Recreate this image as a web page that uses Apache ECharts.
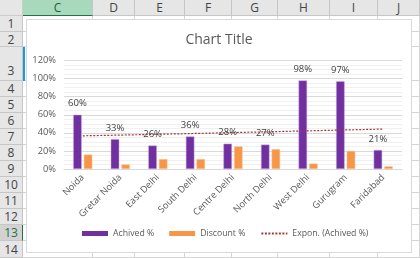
<!DOCTYPE html>
<html><head><meta charset="utf-8">
<script src="https://cdn.jsdelivr.net/npm/echarts@6/dist/echarts.min.js"></script>
<style>
html,body{margin:0;padding:0;width:420px;height:258px;overflow:hidden;background:#fff;font-family:"Segoe UI","Open Sans","Liberation Sans",sans-serif;}
.h{position:absolute;background:#E6E6E6;color:#444;font-size:12px;text-align:center;box-sizing:border-box;}
.vl{position:absolute;width:1px;background:#D4D4D4;}
.hl{position:absolute;height:1px;background:#D4D4D4;}
#chart{position:absolute;left:26px;top:19px;width:386px;height:234px;border:1px solid #D9D9D9;box-sizing:border-box;background:#fff;}
</style></head><body>
<div id="sheet"></div>
<div id="chart"></div>
<script>
const categories = ["Noida","Gretar Noida","East Delhi","South Delhi","Centre Delhi","North Delhi","West Delhi","Gurugram","Faridabad"];
const achieved = [60,33,26,36,28,27,98,97,21];
const discount = [16,5,11,11,25,22,6,20,3];
const trend = [36.7,37.5,38.4,39.3,40.3,41.2,42.2,43.2,44.2];
const yTicks = [0,20,40,60,80,100,120];
const colNames = ["C","D","E","F","G","H","I","J"];
const rowNames = ["1","2","3","4","5","6","7","8","9","10","11","12","13","14"];

// spreadsheet frame
const colEdges = [23,93,135,185,232,278,330,378,420];
const rowEdges = [16,32,47,81,97,113,129,145,161,177,193,209,225,241,258];
const sheet = document.getElementById('sheet');
let html = '';
html += '<div class="h" style="left:0;top:0;width:23px;height:16px;border-right:1px solid #ccc;border-bottom:1px solid #ccc"></div>';
for (let i=0;i<colNames.length;i++){
  const l=colEdges[i], w=colEdges[i+1]-l;
  const sel = i===0;
  html += `<div class="h" style="left:${l}px;top:0;width:${w}px;height:16px;line-height:16px;border-right:1px solid #C6C6C6;border-bottom:1px solid ${sel?'#217346':'#C6C6C6'};background:${sel?'#A9D9BC':'#E6E6E6'};color:${sel?'#1E5E3A':'#444'}">${colNames[i]}</div>`;
  html += `<div class="vl" style="left:${colEdges[i+1]-1}px;top:16px;height:242px"></div>`;
}
for (let i=0;i<rowNames.length;i++){
  const t=rowEdges[i], hgt=rowEdges[i+1]-t;
  const sel = i===12;
  html += `<div class="h" style="left:0;top:${t}px;width:23px;height:${hgt}px;line-height:${hgt+ (i===2?14:0)}px;border-right:1px solid ${sel?'#217346':'#C6C6C6'};border-bottom:1px solid #C6C6C6;background:${sel?'#D2D2D2':'#E6E6E6'};color:${sel?'#217346':'#444'}">${rowNames[i]}</div>`;
  html += `<div class="hl" style="left:23px;top:${rowEdges[i+1]-1}px;width:397px"></div>`;
}
html += '<div style="position:absolute;left:23px;top:47px;width:2px;height:34px;background:#1A9BE0"></div>';
sheet.innerHTML = html;

const chart = echarts.init(document.getElementById('chart'), null, {renderer:'canvas'});
chart.setOption({
  animation:false,
  textStyle:{fontFamily:'"Segoe UI","Open Sans","Liberation Sans",sans-serif'},
  title:{text:'Chart Title',left:'center',top:8,textStyle:{fontSize:14,fontWeight:'normal',color:'#595959'}},
  grid:{left:37,right:9,top:40.5,bottom:83},
  legend:{bottom:9,left:50,itemWidth:26,itemHeight:5,itemGap:15,
    textStyle:{fontSize:8.7,color:'#595959'},
    data:[{name:'Achived %',icon:'rect',itemStyle:{borderWidth:0}},
          {name:'Discount %',icon:'rect',itemStyle:{borderWidth:0}},
          {name:'Expon. (Achived %)',itemStyle:{color:'rgba(0,0,0,0)',borderColor:'rgba(0,0,0,0)',borderWidth:0}}]},
  xAxis:{type:'category',data:categories,
    axisLine:{lineStyle:{color:'#D9D9D9'}},axisTick:{show:false},
    axisLabel:{rotate:45,fontSize:9.3,color:'#595959',margin:7,interval:0}},
  yAxis:{type:'value',min:yTicks[0],max:yTicks[yTicks.length-1],interval:20,
    axisLabel:{formatter:'{value}%',fontSize:9.3,color:'#595959',margin:8},
    axisLine:{show:false},axisTick:{show:false},
    splitLine:{lineStyle:{color:'#D9D9D9'}},
    minorTick:{show:false,splitNumber:4},
    minorSplitLine:{show:true,lineStyle:{color:'#F0F0F0'}}},
  series:[
    {name:'Achived %',type:'bar',data:achieved,barWidth:8.5,barGap:'25%',
      itemStyle:{color:'#7030A0',borderColor:'#C9A8E0',borderWidth:0.5},
      label:{show:true,position:'top',distance:6,formatter:'{c}%',fontSize:9.5,color:'#404040'}},
    {name:'Discount %',type:'bar',data:discount,barWidth:8.5,
      itemStyle:{color:'#F79646',borderColor:'#FBCBA3',borderWidth:0.5}},
    {name:'Expon. (Achived %)',type:'line',data:trend,symbol:'none',z:5,
      lineStyle:{color:'#9E3B3B',width:1.2,type:[2,1.5]},itemStyle:{color:'#9E3B3B'}}
  ]
});
</script></body></html>
